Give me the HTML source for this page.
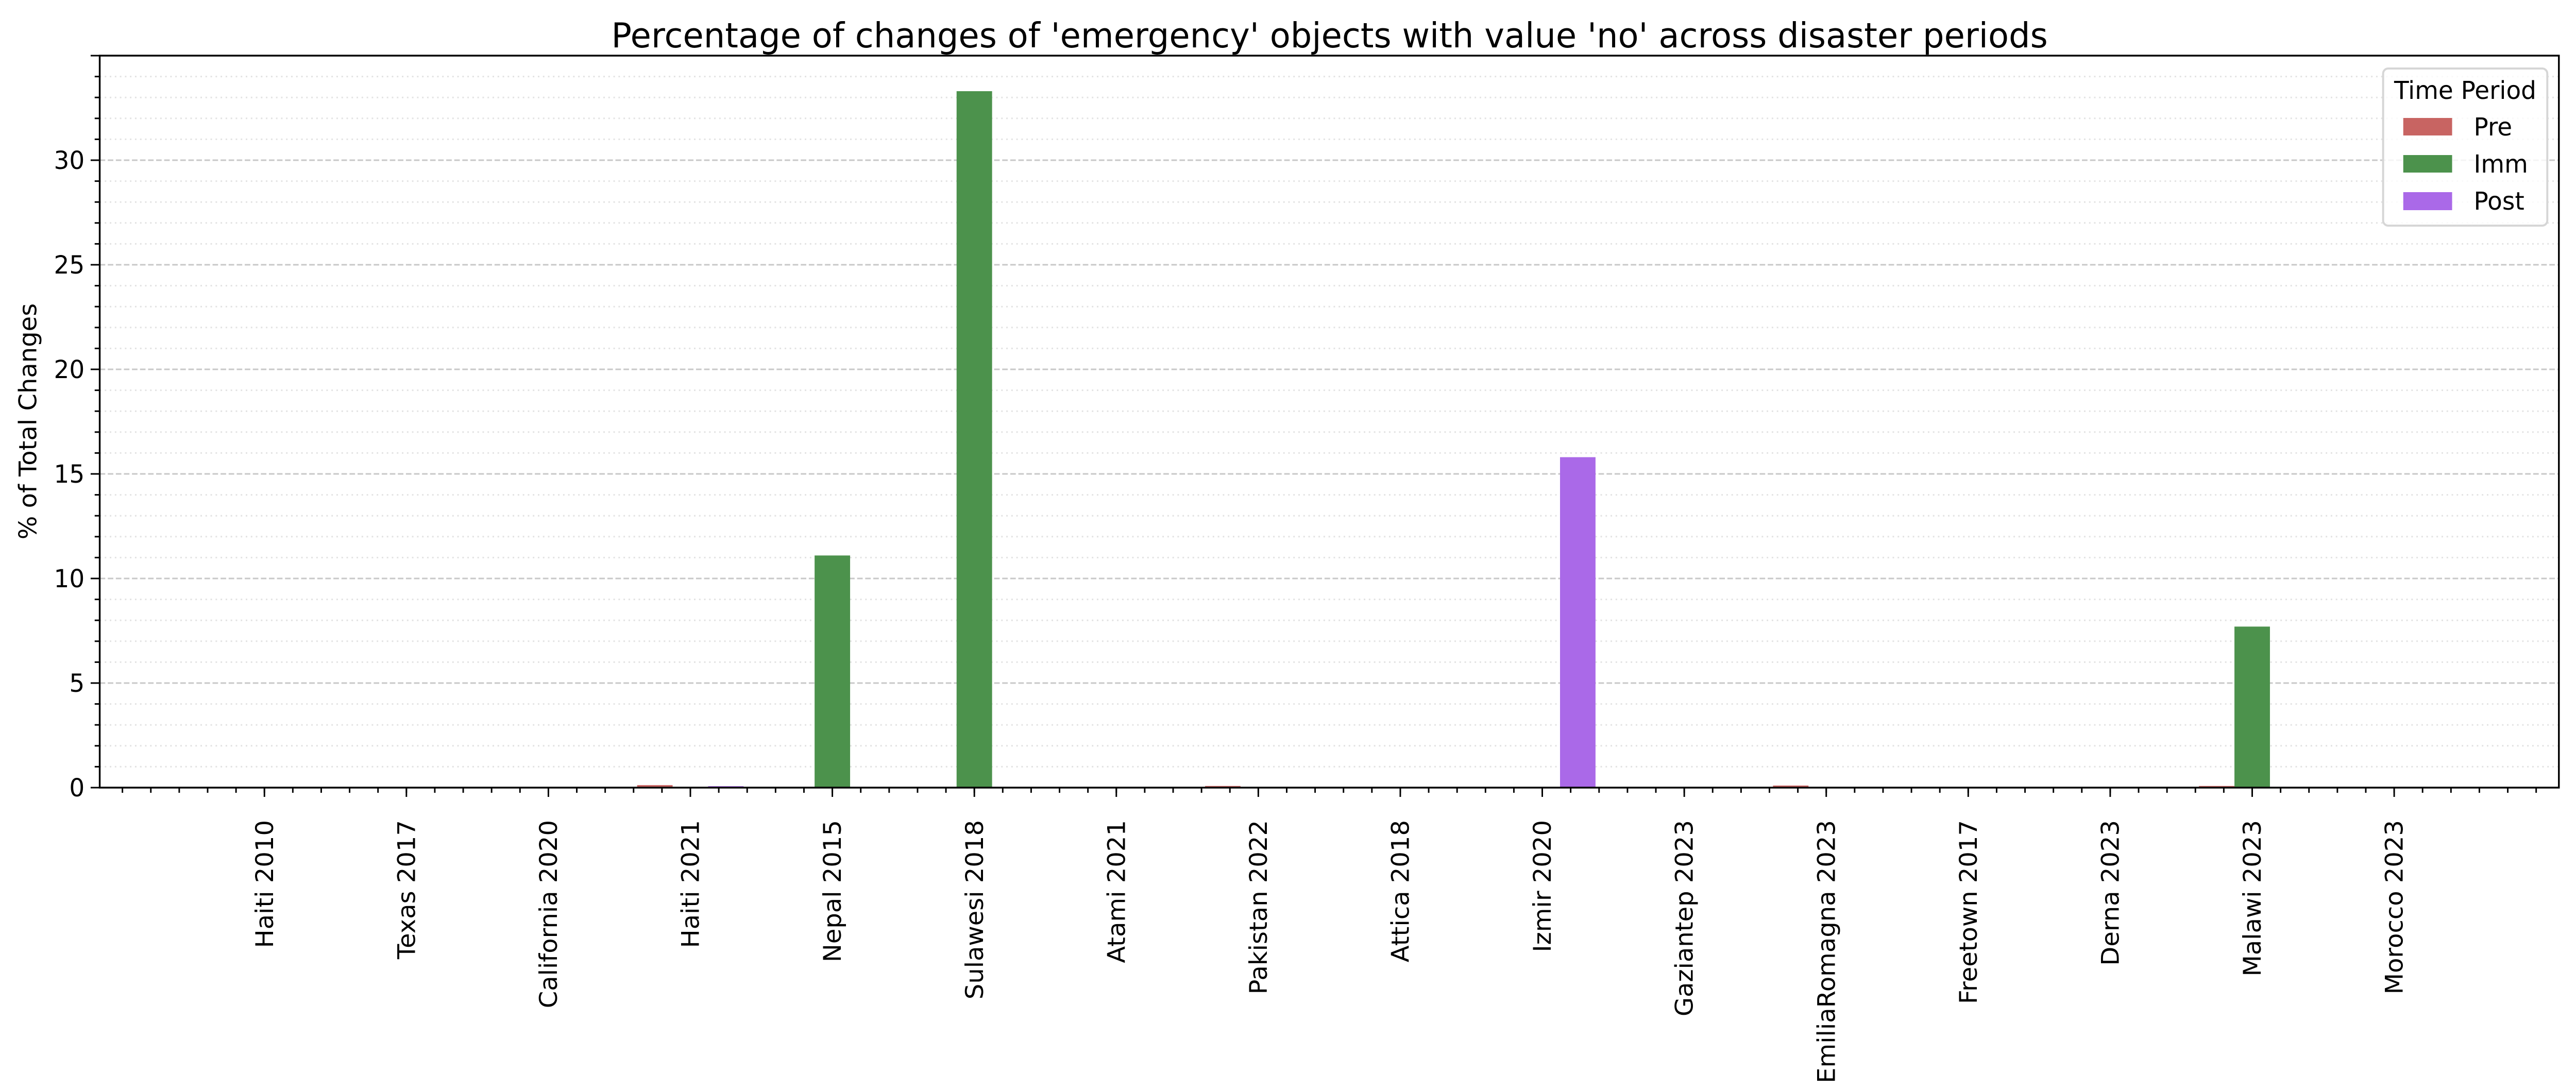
<!DOCTYPE html>
<html><head><meta charset="utf-8">
<style>
html,body{margin:0;padding:0;background:#fff;overflow:hidden;}
svg{display:block;position:fixed;left:0;top:0;width:100vw;height:100vh;font-family:"DejaVu Sans","Liberation Sans",sans-serif;}
</style></head>
<body>
<svg id="chart" viewBox="0 0 5115 2116" preserveAspectRatio="none" xmlns="http://www.w3.org/2000/svg">
<rect width="5115" height="2116" fill="#fff"/>
<text x="2640" y="92" font-size="67" text-anchor="middle">Percentage of changes of 'emergency' objects with value 'no' across disaster periods</text>
<g id="grid"></g>
<g id="bars"></g>
<g id="axes"></g>
<text transform="translate(72,818) rotate(-90)" font-size="48" text-anchor="middle">% of Total Changes</text>
<g>
<rect x="4732" y="133" width="326" height="305" rx="10" fill="#fff" fill-opacity="0.8" stroke="#d6d6d6" stroke-width="4"/>
<text x="4895" y="192" font-size="48" text-anchor="middle">Time Period</text>
<rect x="4772" y="229" width="97" height="34" fill="#c86462"/>
<text x="4912" y="263" font-size="48">Pre</text>
<rect x="4772" y="301" width="97" height="34" fill="#4c924c"/>
<text x="4912" y="335" font-size="48">Imm</text>
<rect x="4772" y="373" width="97" height="35" fill="#aa69e8"/>
<text x="4912" y="407" font-size="48">Post</text>
</g>
</svg>
<script>
const categories = ["Haiti 2010","Texas 2017","California 2020","Haiti 2021","Nepal 2015","Sulawesi 2018","Atami 2021","Pakistan 2022","Attica 2018","Izmir 2020","Gaziantep 2023","EmiliaRomagna 2023","Freetown 2017","Derna 2023","Malawi 2023","Morocco 2023"];
const preValues  = [0,0,0,0.12,0,0,0,0.08,0,0,0,0.1,0,0,0.08,0];
const immValues  = [0,0,0,0,11.1,33.3,0,0,0,0,0,0,0,0,7.7,0];
const postValues = [0,0,0,0.07,0,0,0,0,0,15.8,0,0,0,0,0,0];
const yTickLabels = ["0","5","10","15","20","25","30"];

const NS="http://www.w3.org/2000/svg";
const L=198,R=5081,T=108,B=1529;
const xMin=-1.16,xMax=16.16,yMin=0,yMax=35;
function xs(v){return L+(v-xMin)/(xMax-xMin)*(R-L);}
function ys(v){return B-(v-yMin)/(yMax-yMin)*(B-T);}
function mk(tag,attrs,parent){const e=document.createElementNS(NS,tag);for(const k in attrs)e.setAttribute(k,attrs[k]);parent.appendChild(e);return e;}
const grid=document.getElementById('grid'),bars=document.getElementById('bars'),axes=document.getElementById('axes');

for(let v=1;v<=35;v++){
  const major=v%5===0;
  const g=mk('line',{x1:L,x2:R,y1:ys(v),y2:ys(v),stroke:major?'#c8c8c8':'#e2e2e2','stroke-width':3,'stroke-dasharray':major?'11 5':'3 7'},grid);
  
  
}
for(let v=0;v<=35;v++){
  const major=v%5===0;
  const t=mk('line',{x1:L-(major?18:10),x2:L,y1:ys(v),y2:ys(v),stroke:'#000','stroke-width':3},axes);
  
  
}
yTickLabels.forEach((s,i)=>{
  const t=mk('text',{x:L-30,y:ys(Number(s))+17,'font-size':48,'text-anchor':'end'},axes);
  t.textContent=s;
  
  
});
for(let k=-5;k<=80;k++){
  const v=k*0.2; if(v<xMin||v>xMax)continue;
  const t=mk('line',{x1:xs(v),x2:xs(v),y1:B,y2:B+10,stroke:'#000','stroke-width':3},axes);
  
  
}
const series=[[preValues,-0.25,'#c86462','pre'],[immValues,0,'#4c924c','imm'],[postValues,0.25,'#aa69e8','post']];
const bw=0.25;
series.forEach(([vals,off,col,nm])=>{
  vals.forEach((v,i)=>{
    if(v<=0)return;
    const x0=xs(i+off-bw/2),x1=xs(i+off+bw/2);
    const r=mk('rect',{x:x0,y:ys(v),width:x1-x0,height:ys(0)-ys(v),fill:col},bars);
    
    
  });
});
categories.forEach((c,i)=>{
  const x=xs(i);
  const t=mk('line',{x1:x,x2:x,y1:B,y2:B+18,stroke:'#000','stroke-width':3},axes);
  
  
  const lb=mk('text',{transform:`translate(${x+17},1592) rotate(-90)`,'font-size':48,'text-anchor':'end'},axes);
  lb.textContent=c;
  
  
});
const frame=mk('rect',{x:L,y:T,width:R-L,height:B-T,fill:'none',stroke:'#000','stroke-width':3.5},axes);


</script>
</body></html>
